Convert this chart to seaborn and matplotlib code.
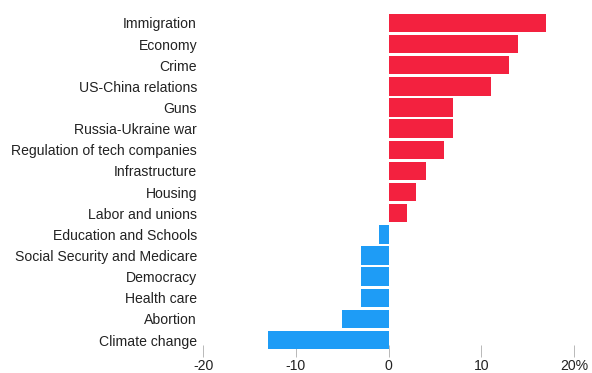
import matplotlib
matplotlib.use("Agg")
import matplotlib.pyplot as plt
import seaborn as sns
import pandas as pd

categories = ["Immigration", "Economy", "Crime", "US-China relations", "Guns",
              "Russia-Ukraine war", "Regulation of tech companies", "Infrastructure",
              "Housing", "Labor and unions", "Education and Schools",
              "Social Security and Medicare", "Democracy", "Health care",
              "Abortion", "Climate change"]
values = [17, 14, 13, 11, 7, 7, 6, 4, 3, 2, -1, -3, -3, -3, -5, -13]
tick_values = [-20, -10, 0, 10, 20]
tick_labels = ["-20", "-10", "0", "10", "20%"]

RED = "#f3213f"
BLUE = "#1e9cf6"

df = pd.DataFrame({"cat": categories, "val": values})
df["sign"] = ["pos" if v >= 0 else "neg" for v in values]

sns.set_theme(style="white")
plt.rcParams["font.family"] = ["Liberation Sans", "DejaVu Sans"]

fig = plt.figure(figsize=(5.92, 3.73), dpi=100)
W, H = 592, 373
left, right = 203, 574
top, bottom = 12.4, 350.6
ax = fig.add_axes([left / W, 1 - bottom / H, (right - left) / W, (bottom - top) / H])

sns.barplot(data=df, y="cat", x="val", hue="sign", order=categories,
            palette={"pos": RED, "neg": BLUE}, dodge=False, width=0.87,
            legend=False, ax=ax, saturation=1, linewidth=0, zorder=3)

ax.set_xlim(-20, 20)
ax.set_ylim(len(categories) - 0.5, -0.5)
ax.set_xlabel("")
ax.set_ylabel("")
ax.set_xticks(tick_values)
ax.set_xticklabels(tick_labels)
for s in ax.spines.values():
    s.set_visible(False)
ax.tick_params(axis="y", left=False, length=0, pad=4.3, labelsize=10.1, labelcolor="#222222")
ax.tick_params(axis="x", bottom=True, direction="inout", length=9, width=0.7,
               color="#b8b8b8", pad=1.5, labelsize=10.1, labelcolor="#222222")
ax.set_axisbelow(True)

fig.savefig("out.png", dpi=100)
